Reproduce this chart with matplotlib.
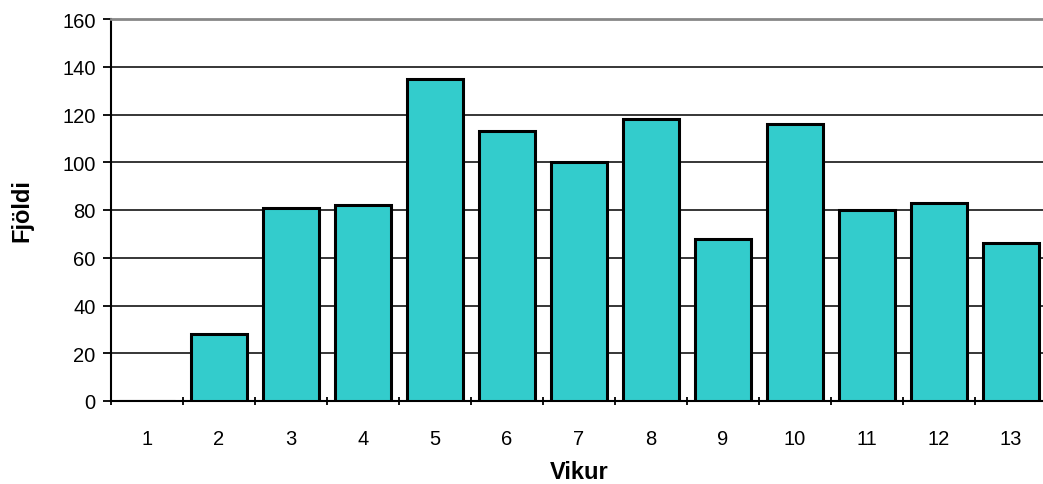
import numpy as np
import matplotlib.pyplot as plt

plt.rcParams['font.family'] = ['Liberation Sans', 'DejaVu Sans']

# fjöldi eftir vikum
vikur = ['1', '2', '3', '4', '5', '6', '7', '8', '9', '10', '11', '12', '13']
fjoldi = [0, 28, 81, 82, 135, 113, 100, 118, 68, 116, 80, 83, 66]

fig = plt.figure(figsize=(10.43, 4.85), dpi=100)
ax = fig.add_axes([111/1043, 83/485, 936/1043, 382/485])

x = np.arange(1, len(vikur) + 1)
ax.bar(x, fjoldi, width=0.78, color='#33CCCC', edgecolor='black', linewidth=2.2, zorder=3)

ax.set_xlim(0.5, len(vikur) + 0.5)
ax.set_ylim(0, 160)
ax.set_yticks(np.arange(0, 161, 20))
ax.yaxis.grid(True, color='black', linewidth=1.1, zorder=0)
ax.set_axisbelow(True)

# merki milli flokka, tölur í miðju
ax.set_xticks(x)
ax.set_xticklabels(vikur)
ax.set_xticks(np.arange(0.5, len(vikur) + 1, 1), minor=True)
ax.tick_params(axis='x', which='major', length=0, pad=20, labelsize=14.5)
ax.tick_params(axis='x', which='minor', length=6, width=1.3, direction='inout')
ax.tick_params(axis='y', length=6, width=1.3, labelsize=14.5, pad=5)

ax.spines['right'].set_visible(False)
ax.spines['top'].set_color('#888888')
ax.spines['top'].set_linewidth(2)
ax.spines['left'].set_linewidth(1.5)
ax.spines['bottom'].set_linewidth(1.5)

ax.set_xlabel('Vikur', fontsize=17, fontweight='bold')
ax.set_ylabel('Fjöldi', fontsize=17, fontweight='bold')
ax.xaxis.set_label_coords(0.5, -0.155)
ax.yaxis.set_label_coords(-0.083, 0.5)

fig.savefig('out.png', dpi=100)
